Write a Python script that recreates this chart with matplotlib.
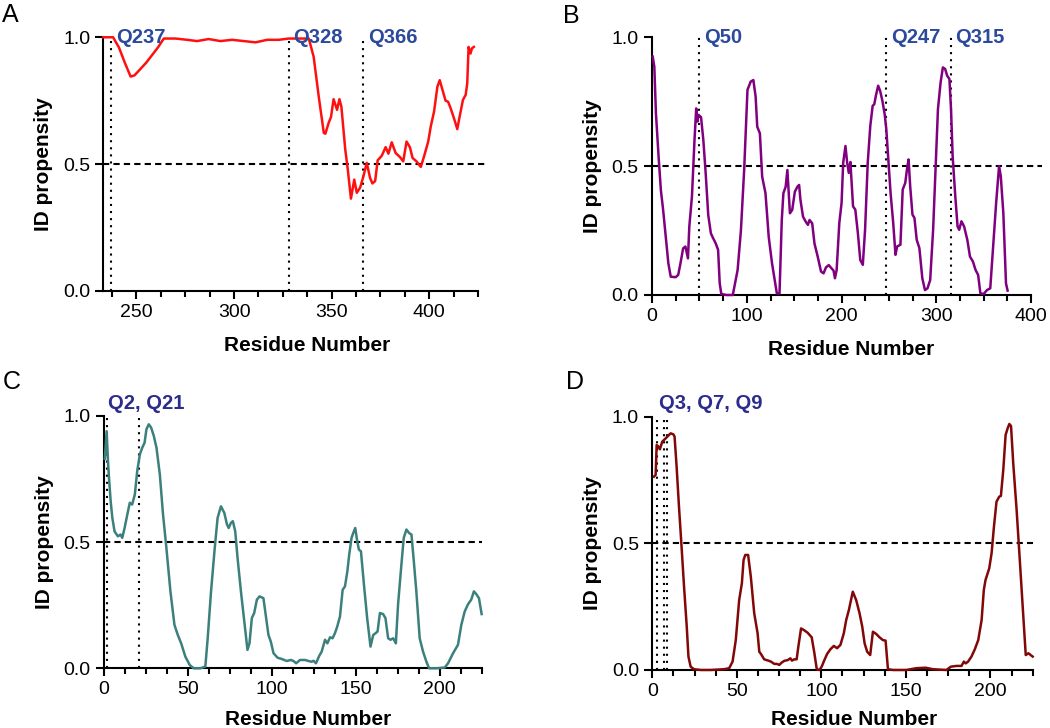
import matplotlib.pyplot as plt
from matplotlib.ticker import MultipleLocator, FormatStrFormatter

plt.rcParams['font.family'] = ['Liberation Sans', 'DejaVu Sans']

W, H = 1050, 728

# ---- panel A ----
a_res = [233, 238, 241, 244, 247, 249, 252, 255, 258, 261, 264, 270, 276, 281,
         287, 293, 299, 305, 311, 317, 323, 328, 334, 338.3, 340.8, 343.4, 346,
         346.8, 348.5, 349.7, 351, 352.8, 354, 355, 357, 358.3, 359.9, 361.6,
         362.9, 364.6, 366.3, 368, 369.7, 370.9, 372.3, 373.6, 375.7, 377.7,
         379.1, 380.8, 382.8, 385, 386.7, 388.4, 390.1, 391.5, 393.5, 395.7,
         397.4, 399.5, 400.8, 402.5, 404.2, 405.4, 407.1, 408.4, 409.7, 411,
         412.7, 414.4, 415.6, 417.3, 418.7, 419.5, 420.2, 421.2, 421.9, 422.9]
a_val = [1.0, 1.0, 0.96, 0.90, 0.845, 0.85, 0.875, 0.90, 0.93, 0.96, 0.995,
         0.995, 0.99, 0.985, 0.993, 0.985, 0.99, 0.985, 0.98, 0.99, 0.99, 0.995,
         0.995, 0.995, 0.923, 0.766, 0.623, 0.62, 0.663, 0.686, 0.756, 0.714,
         0.756, 0.727, 0.557, 0.478, 0.364, 0.439, 0.387, 0.407, 0.452, 0.505,
         0.446, 0.424, 0.433, 0.515, 0.533, 0.567, 0.541, 0.586, 0.544, 0.528,
         0.511, 0.589, 0.567, 0.524, 0.511, 0.489, 0.531, 0.589, 0.648, 0.707,
         0.805, 0.831, 0.785, 0.75, 0.746, 0.72, 0.681, 0.638, 0.687, 0.753,
         0.773, 0.818, 0.962, 0.936, 0.956, 0.962]
a_q = [237, 328, 366]
a_qlab = ['Q237', 'Q328', 'Q366']

# ---- panel B ----
b_res = [0.7, 2.4, 4.1, 6.9, 9.3, 11.7, 14.5, 17.2, 19.7, 24.9, 27.6, 30, 32.8,
         35.2, 37.9, 39.3, 42.1, 44.8, 46.6, 47.9, 49, 51.7, 54.1, 56.6, 59.3,
         62.1, 64.5, 67.2, 69.7, 71.4, 73.1, 78.3, 85.2, 87.6, 90.3, 93.8, 97.2,
         100.7, 104.1, 106.9, 109.3, 111, 113.8, 116.2, 119.7, 123.1, 126.6,
         130, 131.7, 134.5, 136.9, 138.6, 141, 142.8, 143.8, 145.5, 147.9,
         150.7, 153.4, 155.2, 156.6, 159.3, 162.1, 164.5, 166.2, 169, 171.4,
         174.8, 178.3, 181, 183.5, 186.5, 189, 191.5, 193, 194.8, 197.6, 200,
         201.7, 204.1, 205.9, 207.6, 209.3, 212.1, 214.5, 217.2, 219.7, 222.4,
         224.8, 227.6, 230.3, 232.8, 234.5, 236.2, 238.6, 240.7, 243.1, 245.5,
         247.2, 249.3, 251.7, 254.5, 256.9, 258.6, 262.1, 264.5, 267.2, 269,
         270.7, 272.4, 274.8, 276.9, 279.3, 282.1, 285.2, 288, 290.7, 293.5,
         296.6, 299.3, 301.7, 304.5, 306.9, 309.3, 311.4, 313.8, 315.5, 317.2,
         320, 322.4, 324.1, 326.5, 329.3, 332.7, 335.5, 338.6, 341.4, 344.1,
         346.5, 350, 353.4, 356.9, 359.7, 363.1, 366.2, 368, 370.7, 373.5, 375.2]
b_val = [0.925, 0.886, 0.705, 0.537, 0.407, 0.33, 0.226, 0.123, 0.071, 0.069,
         0.078, 0.123, 0.181, 0.188, 0.142, 0.265, 0.382, 0.602, 0.724, 0.673,
         0.699, 0.69, 0.602, 0.472, 0.31, 0.239, 0.22, 0.2, 0.175, 0.045, 0.004,
         0.0, 0.0, 0.045, 0.097, 0.252, 0.485, 0.796, 0.828, 0.834, 0.77, 0.653,
         0.627, 0.459, 0.395, 0.226, 0.123, 0.045, 0.006, 0.006, 0.291, 0.395,
         0.42, 0.485, 0.42, 0.317, 0.33, 0.401, 0.42, 0.427, 0.369, 0.304,
         0.285, 0.272, 0.291, 0.278, 0.2, 0.149, 0.091, 0.084, 0.107, 0.116,
         0.105, 0.095, 0.065, 0.097, 0.279, 0.357, 0.513, 0.578, 0.513, 0.474,
         0.516, 0.344, 0.331, 0.24, 0.136, 0.117, 0.253, 0.513, 0.656, 0.734,
         0.74, 0.773, 0.812, 0.792, 0.753, 0.701, 0.643, 0.526, 0.396, 0.279,
         0.156, 0.188, 0.195, 0.409, 0.435, 0.487, 0.526, 0.422, 0.312, 0.299,
         0.214, 0.182, 0.065, 0.019, 0.026, 0.058, 0.253, 0.5, 0.721, 0.825,
         0.883, 0.877, 0.851, 0.838, 0.721, 0.539, 0.383, 0.266, 0.253, 0.286,
         0.266, 0.214, 0.149, 0.13, 0.097, 0.078, 0.006, 0.004, 0.019, 0.026,
         0.175, 0.357, 0.5, 0.461, 0.318, 0.045, 0.017]
b_q = [50, 247, 315]
b_qlab = ['Q50', 'Q247', 'Q315']

# ---- panel C ----
c_res = [0.5, 1.6, 2.4, 3, 4, 5, 6.3, 8.3, 9.9, 10.9, 12.3, 13.9, 15.4, 16.8,
         18.4, 19.8, 21.4, 22.8, 24.2, 25.3, 26.7, 28.1, 29.7, 31.3, 33.3, 35.2,
         37.2, 39.6, 42, 44, 46, 48.5, 51.1, 53.5, 57.4, 60.4, 61.8, 63.8, 66,
         67.7, 69.7, 71.7, 73.3, 74.3, 75.6, 76.8, 78.2, 79.6, 81.6, 83.6, 85.5,
         86.7, 88.1, 89.5, 91.1, 92.7, 95, 96.6, 98, 99.4, 101, 103.4, 105.9,
         108.9, 111.3, 112.9, 114.5, 116.8, 119.8, 121.8, 123.8, 124.8, 126.3,
         128.3, 129.7, 131.7, 133.1, 134.7, 136.2, 137.6, 139, 140.6, 142.2,
         143.6, 145, 146.1, 147.5, 148.5, 149.7, 150.9, 151.9, 153.1, 154.9,
         156.8, 158.8, 160.4, 161.8, 163, 164.4, 166.3, 167.7, 169.3, 170.7,
         172.3, 173.9, 175.2, 177.2, 178.6, 180.2, 181.8, 183.2, 184.6, 186.1,
         188.1, 190.1, 192.1, 193.7, 198, 203, 205, 208, 210.9, 212.9, 214.9,
         216.9, 218.8, 220.4, 221.8, 223.4, 225]
c_val = [0.83, 0.94, 0.821, 0.755, 0.662, 0.596, 0.543, 0.523, 0.53, 0.517,
         0.556, 0.609, 0.656, 0.649, 0.689, 0.781, 0.848, 0.874, 0.894, 0.947,
         0.967, 0.954, 0.921, 0.874, 0.768, 0.609, 0.477, 0.305, 0.172, 0.132,
         0.099, 0.046, 0.013, 0.0, 0.0, 0.007, 0.119, 0.305, 0.477, 0.596, 0.642,
         0.616, 0.57, 0.556, 0.576, 0.583, 0.543, 0.437, 0.305, 0.185, 0.073,
         0.099, 0.199, 0.219, 0.272, 0.285, 0.278, 0.199, 0.132, 0.106, 0.06,
         0.042, 0.037, 0.029, 0.033, 0.029, 0.02, 0.033, 0.033, 0.029, 0.026,
         0.03, 0.02, 0.05, 0.066, 0.113, 0.099, 0.123, 0.119, 0.139, 0.166,
         0.205, 0.311, 0.325, 0.384, 0.45, 0.517, 0.536, 0.556, 0.503, 0.47,
         0.464, 0.331, 0.199, 0.086, 0.132, 0.139, 0.146, 0.219, 0.215, 0.199,
         0.119, 0.113, 0.119, 0.099, 0.252, 0.411, 0.517, 0.55, 0.536, 0.53,
         0.424, 0.305, 0.119, 0.066, 0.026, 0.0, 0.0, 0.003, 0.02, 0.06, 0.093,
         0.172, 0.225, 0.254, 0.272, 0.305, 0.294, 0.278, 0.215]
c_q = [2, 21]
c_qlab = 'Q2, Q21'

# ---- panel D ----
d_res = [1, 2, 2.6, 3.6, 4.5, 5.9, 7.9, 9.9, 10.9, 12.5, 13.2, 14.4, 15.8, 17.2,
         18.8, 20.4, 21.4, 22.7, 24.7, 28.7, 34.6, 42.5, 45.5, 47.5, 49.4, 51.4,
         53, 54, 55, 56.7, 58.3, 60.3, 62.3, 63.3, 64.3, 66.2, 68.6, 70.2, 72.2,
         73.8, 75.1, 76.5, 78.1, 80.1, 81.7, 82.6, 84, 85.4, 86.4, 88, 89.6,
         91.9, 94.3, 95.9, 97.3, 98.9, 100.2, 101.8, 103.4, 105.4, 107.4, 109.3,
         111.3, 113.3, 114.7, 116.3, 118.6, 120.6, 122.6, 124.2, 125.6, 127.1,
         128.9, 130.5, 132.5, 134.4, 136.4, 138, 139.4, 142.3, 150.2, 156.2,
         161.7, 166, 174, 176.6, 179.9, 182.9, 184.3, 185.4, 186.8, 188.8,
         190.8, 192.8, 194.8, 196.1, 197.1, 199.3, 200.7, 202.1, 203.6, 205.2,
         206.2, 207.6, 209, 210.2, 211.2, 212.2, 213.5, 215.5, 217.5, 219.1,
         220.9, 222.5, 223.8, 225]
d_val = [0.763, 0.77, 0.888, 0.882, 0.871, 0.901, 0.914, 0.928, 0.934, 0.93,
         0.921, 0.803, 0.645, 0.5, 0.329, 0.171, 0.053, 0.013, 0.003, 0.0, 0.0,
         0.003, 0.007, 0.033, 0.118, 0.276, 0.342, 0.434, 0.454, 0.454, 0.368,
         0.224, 0.145, 0.072, 0.063, 0.042, 0.037, 0.033, 0.024, 0.024, 0.02,
         0.029, 0.036, 0.039, 0.046, 0.037, 0.042, 0.042, 0.092, 0.164, 0.158,
         0.147, 0.129, 0.066, 0.003, 0.0, 0.013, 0.039, 0.063, 0.082, 0.095,
         0.086, 0.099, 0.145, 0.197, 0.237, 0.309, 0.276, 0.224, 0.171, 0.105,
         0.072, 0.059, 0.151, 0.142, 0.129, 0.118, 0.116, 0.003, 0.0, 0.0,
         0.007, 0.009, 0.003, 0.0, 0.013, 0.016, 0.016, 0.033, 0.026, 0.033,
         0.053, 0.082, 0.118, 0.197, 0.316, 0.355, 0.401, 0.461, 0.566, 0.664,
         0.684, 0.687, 0.789, 0.928, 0.954, 0.971, 0.963, 0.816, 0.632, 0.421,
         0.25, 0.059, 0.066, 0.059, 0.053]
d_q = [3, 7, 9]
d_qlab = 'Q3, Q7, Q9'

fig = plt.figure(figsize=(W / 100, H / 100), dpi=100)


def panel(rect, res, val, color, xlim, major, minor, qs, dash_end, xlab_x,
          xlab_dy=45):
    ax = fig.add_axes(rect)
    ax.plot(res, val, color=color, lw=1.8, clip_on=False, zorder=3)
    ax.plot([xlim[0], dash_end], [0.5, 0.5], color='black', lw=1.5,
            ls=(0, (3, 2)), clip_on=False)
    for q in qs:
        ax.plot([q, q], [0, 1], color='black', lw=1.5, ls=(0, (1, 2.4)),
                clip_on=False)
    ax.set_xlim(xlim)
    ax.set_ylim(0, 1)
    ax.spines[['top', 'right']].set_visible(False)
    ax.spines[['left', 'bottom']].set_linewidth(1.5)
    ax.xaxis.set_major_locator(MultipleLocator(major))
    ax.xaxis.set_minor_locator(MultipleLocator(minor))
    ax.yaxis.set_major_locator(MultipleLocator(0.5))
    ax.yaxis.set_major_formatter(FormatStrFormatter('%.1f'))
    ax.tick_params(which='major', length=6, width=1.5, labelsize=14, pad=3.5)
    ax.tick_params(which='minor', length=4, width=1.5)
    ax.set_xlabel('Residue Number', fontsize=15, fontweight='bold')
    ax.set_ylabel('ID propensity', fontsize=15, fontweight='bold')
    wpx = rect[2] * W
    hpx = rect[3] * H
    ax.xaxis.set_label_coords(xlab_x, -xlab_dy / hpx)
    ax.yaxis.set_label_coords(-50 / wpx, 0.5)
    return ax


blue = '#2c4a9c'
navy = '#2b2c8c'

axA = panel([0.0984, 0.6003, 0.3568, 0.3485], a_res, a_val, '#ff1010',
            (233, 425), 50, 12.5, a_q, 430, 0.544)
for q, lab in zip(a_q, a_qlab):
    axA.annotate(lab, (q, 1.0), xytext=(3.5, 0), textcoords='offset points',
                 ha='left', va='center', fontsize=14.5, fontweight='bold',
                 color=blue, annotation_clip=False)

axB = panel([0.621, 0.5948, 0.361, 0.354], b_res, b_val, '#800080',
            (0, 400), 100, 25, b_q, 411, 0.525)
for q, lab in zip(b_q, b_qlab):
    axB.annotate(lab, (q, 1.0), xytext=(3.5, 0), textcoords='offset points',
                 ha='left', va='center', fontsize=14.5, fontweight='bold',
                 color=blue, annotation_clip=False)

axC = panel([0.099, 0.082, 0.3597, 0.3466], c_res, c_val, '#3b807c',
            (0, 225), 50, 12.5, c_q, 225, 0.54, 42)
axC.annotate(c_qlab, (c_q[0], 1.048), xytext=(0.5, 0),
             textcoords='offset points', ha='left', va='center',
             fontsize=14.5, fontweight='bold', color=navy,
             annotation_clip=False)

axD = panel([0.6212, 0.0797, 0.3623, 0.348], d_res, d_val, '#820808',
            (0, 225), 50, 12.5, d_q, 225, 0.53, 40)
axD.annotate(d_qlab, (d_q[0], 1.05), xytext=(1.5, 0),
             textcoords='offset points', ha='left', va='center',
             fontsize=14.5, fontweight='bold', color=navy,
             annotation_clip=False)

for lab, x, y in [('A', 2, 22), ('B', 563, 23), ('C', 3, 389), ('D', 566, 389)]:
    fig.text(x / W, 1 - y / H, lab, fontsize=18, va='baseline', ha='left')

fig.savefig('out.png', dpi=100)
